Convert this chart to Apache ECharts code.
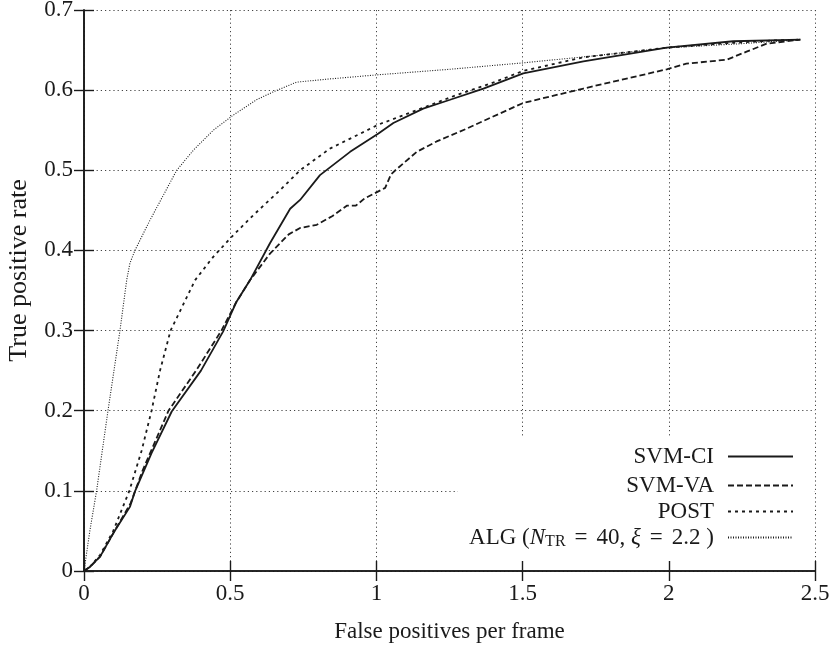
<!DOCTYPE html>
<html>
<head>
<meta charset="utf-8">
<script src="https://cdn.jsdelivr.net/npm/echarts@6/dist/echarts.min.js"></script>
<style>html,body{margin:0;padding:0;background:#fff}#c{width:835px;height:648px}</style>
</head>
<body>
<div id="c"></div>
<script>
// ---- data (x: false positives per frame, y: true positive rate) ----
const xTicks = [0, 0.5, 1, 1.5, 2, 2.5];
const yTicks = [0, 0.1, 0.2, 0.3, 0.4, 0.5, 0.6, 0.7];
const seriesNames = ['SVM-CI', 'SVM-VA', 'POST', 'ALG'];

const svmCI = [[0,0],[0.02,0.005],[0.055,0.018],[0.1,0.047],[0.157,0.08],[0.174,0.099],[0.231,0.147],[0.3,0.199],[0.4,0.25],[0.476,0.299],[0.52,0.335],[0.568,0.363],[0.636,0.409],[0.705,0.452],[0.739,0.463],[0.807,0.494],[0.91,0.523],[1.007,0.546],[1.058,0.559],[1.16,0.577],[1.252,0.588],[1.366,0.602],[1.502,0.621],[1.708,0.636],[1.993,0.653],[2.22,0.661],[2.45,0.663]];

const svmVA = [[0,0],[0.02,0.005],[0.055,0.018],[0.1,0.047],[0.16,0.085],[0.2,0.125],[0.289,0.2],[0.385,0.251],[0.47,0.3],[0.52,0.335],[0.568,0.363],[0.636,0.396],[0.7,0.42],[0.739,0.428],[0.796,0.432],[0.85,0.443],[0.9,0.456],[0.93,0.456],[0.96,0.465],[1.03,0.478],[1.05,0.495],[1.065,0.5],[1.138,0.523],[1.206,0.536],[1.309,0.552],[1.423,0.571],[1.502,0.584],[1.708,0.602],[1.993,0.626],[2.06,0.633],[2.198,0.638],[2.266,0.648],[2.335,0.658],[2.45,0.663]];

const post = [[0,0],[0.02,0.005],[0.055,0.02],[0.1,0.05],[0.155,0.1],[0.197,0.15],[0.231,0.2],[0.26,0.25],[0.296,0.3],[0.38,0.363],[0.442,0.392],[0.505,0.417],[0.579,0.444],[0.67,0.475],[0.739,0.5],[0.841,0.527],[1.007,0.557],[1.138,0.575],[1.275,0.594],[1.389,0.608],[1.502,0.624],[1.708,0.641],[1.993,0.653],[2.22,0.659],[2.357,0.662],[2.45,0.663]];

const alg = [[0,0],[0.02,0.05],[0.043,0.1],[0.082,0.2],[0.123,0.3],[0.146,0.363],[0.157,0.384],[0.174,0.4],[0.226,0.438],[0.317,0.5],[0.374,0.525],[0.442,0.55],[0.511,0.569],[0.59,0.588],[0.648,0.598],[0.727,0.61],[0.841,0.614],[1.0,0.619],[1.25,0.626],[1.5,0.634],[1.75,0.643],[2.0,0.653],[2.25,0.658],[2.45,0.663]];

// ---- chart ----
const FONT = '"Liberation Serif", "DejaVu Serif", serif';
const FS = 23;
const INK = '#1a1a1a';
const chart = echarts.init(document.getElementById('c'));

const G = {left: 84, right: 20, top: 10, bottom: 77, containLabel: false, outerBoundsMode: 'none'};
const frameAxisCommon = {
  min: 0, axisLine: {show: true, lineStyle: {color: INK, width: 1.6}},
  axisTick: {show: true, inside: true, length: 10, lineStyle: {color: INK, width: 1.4}},
  splitLine: {show: false}, z: 5
};

function mkLine(name, data, type, width) {
  return {
    name: name, type: 'line', data: data, symbol: 'none', showSymbol: false, smooth: false, z: 3,
    xAxisIndex: 0, yAxisIndex: 0,
    lineStyle: {color: INK, width: width, type: type},
    itemStyle: {color: INK}
  };
}

function mkLegend(name, top, extra) {
  return Object.assign({
    data: [name], right: 41, top: top, align: 'right', orient: 'horizontal',
    itemWidth: 65, itemHeight: 14, padding: 0,
    itemStyle: {opacity: 0},
    textStyle: {fontFamily: FONT, fontSize: FS, color: INK, padding: [0, 9, 0, 0]},
    selectedMode: false
  }, extra || {});
}

chart.setOption({
  animation: false,
  backgroundColor: '#fff',
  grid: G,
  xAxis: [
    Object.assign({}, frameAxisCommon, {
      type: 'value', position: 'bottom', max: 2.5, interval: 0.5,
      axisLabel: {fontFamily: FONT, fontSize: FS, color: INK, margin: 11,
        formatter: v => String(xTicks.find(t => Math.abs(t - v) < 1e-9) ?? v)},
      name: 'False positives per frame', nameLocation: 'middle', nameGap: 49, nameMoveOverlap: false,
      nameTextStyle: {fontFamily: FONT, fontSize: FS, color: INK}
    }),
    Object.assign({}, frameAxisCommon, {
      type: 'value', position: 'top', max: 2.5, interval: 0.5, axisLabel: {show: false}
    }),
    {type: 'value', position: 'bottom', min: 0, max: 2.5, interval: 0.5, z: 0,
     axisLine: {show: false}, axisTick: {show: false}, axisLabel: {show: false},
     splitLine: {show: true, lineStyle: {color: '#444', width: 1, type: [1.2, 3]}}}
  ],
  yAxis: [
    Object.assign({}, frameAxisCommon, {
      type: 'value', position: 'left', max: 0.7, interval: 0.1,
      axisLabel: {fontFamily: FONT, fontSize: FS, color: INK, margin: 11,
        formatter: v => String(yTicks.find(t => Math.abs(t - v) < 1e-9) ?? v)},
      name: 'True positive rate', nameLocation: 'middle', nameGap: 52, nameRotate: 90, nameMoveOverlap: false,
      nameTextStyle: {fontFamily: FONT, fontSize: 26, color: INK, padding: [0, 0, 0, 40]}
    }),
    Object.assign({}, frameAxisCommon, {
      type: 'value', position: 'right', max: 0.7, interval: 0.1, axisLabel: {show: false}
    }),
    {type: 'value', position: 'left', min: 0, max: 0.7, interval: 0.1, z: 0,
     axisLine: {show: false}, axisTick: {show: false}, axisLabel: {show: false},
     splitLine: {show: true, lineStyle: {color: '#444', width: 1, type: [1.2, 3]}}}
  ],
  graphic: [{
    type: 'rect', z: 1, silent: true,
    shape: {x: 458, y: 437, width: 356, height: 133},
    style: {fill: '#fff'}
  }],
  legend: [
    mkLegend('SVM-CI', 445),
    mkLegend('SVM-VA', 474),
    mkLegend('POST', 500),
    mkLegend('ALG', 526, {
      formatter: () => 'ALG ({i|N}{s|TR}{e|=}40, {i|ξ}{e|=}2.2 )',
      textStyle: {fontFamily: FONT, fontSize: FS, color: INK, padding: [0, 9, 0, 0],
        rich: {
          i: {fontFamily: FONT, fontSize: FS, fontStyle: 'italic', color: INK},
          s: {fontFamily: FONT, fontSize: 16, color: INK, padding: [9, 0, 0, 0]},
          e: {fontFamily: FONT, fontSize: FS, color: INK, padding: [0, 9, 0, 9]}
        }}
    })
  ],
  series: [
    mkLine('SVM-CI', svmCI, 'solid', 1.8),
    mkLine('SVM-VA', svmVA, [6, 3], 1.8),
    mkLine('POST', post, [3, 4], 1.8),
    mkLine('ALG', alg, [1, 1.5], 1.1)
  ]
});
</script>
</body>
</html>
